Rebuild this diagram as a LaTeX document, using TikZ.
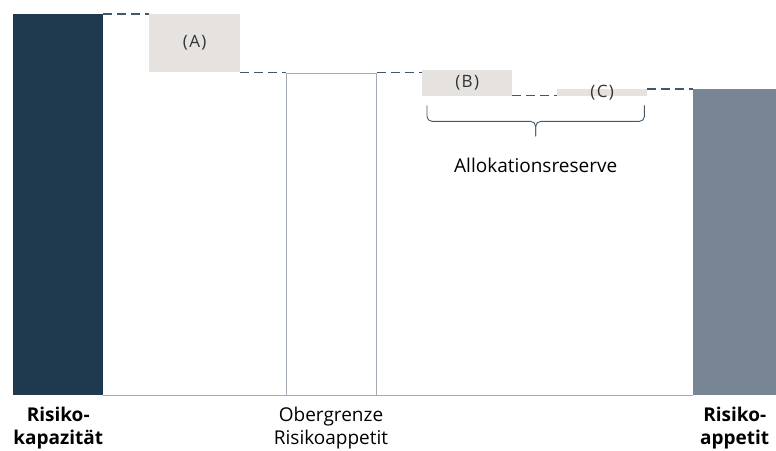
\documentclass[tikz,border=0pt]{standalone}
\usepackage{fontspec}
\setmainfont{Open Sans}
\newfontfamily\boxfont[LetterSpace=8]{Open Sans}
\usetikzlibrary{positioning,calc}
\definecolor{kapblue}{HTML}{1F3A4E}
\definecolor{appgray}{HTML}{778594}
\definecolor{boxbeige}{HTML}{E6E2DF}
\definecolor{linegray}{HTML}{A3ABB4}
\definecolor{dashblue}{HTML}{45586A}

\begin{document}
\begin{tikzpicture}[x=1pt,y=-1pt,
		bar/.style={rectangle, inner sep=0pt, anchor=north west},
		stepline/.style={draw=dashblue, line width=1.6pt, dash pattern=on 9pt off 5pt},
		boxtext/.style={font=\boxfont\fontsize{17}{20}\selectfont, text=black!80},
		labeltext/.style={inner sep=0pt, align=center, font=\fontsize{19}{23}\selectfont}]
		\useasboundingbox (0,0) rectangle (776,450);
		
		\node[bar, fill=kapblue, minimum width=90pt, minimum height=381pt](KAP) at (13,14){};
		\node[bar, fill=boxbeige, minimum width=91pt, minimum height=58pt, boxtext](A) at (149,14){(A)};
		\node[bar, draw=linegray, line width=1pt, minimum width=90pt, minimum height=322pt](OBER) at (285.5,72.5){};
		\node[bar, fill=boxbeige, minimum width=90pt, minimum height=26pt, boxtext](B) at (422,70){(B)};
		\node[bar, fill=boxbeige, minimum width=90pt, minimum height=7pt](C) at (557,89){};
		\node[boxtext, inner sep=0pt](CT) at (C.center){(C)};
		\node[bar, fill=appgray, minimum width=83pt, minimum height=306pt](APP) at (693,89){};
		
		\draw[linegray, line width=1pt] (KAP.south east) -- (APP.south west);
		
		% Stufen
		\draw[stepline] (KAP.north east) -- (KAP.north east -| A.west);
		\draw[stepline] (A.south east) -- (A.south east -| OBER.west);
		\draw[stepline] (OBER.north east) -- (OBER.north east -| B.west);
		\draw[stepline] ([yshift=1pt]B.south east) -- ([yshift=1pt]B.south east -| C.west);
		\draw[stepline] (C.north east) -- (C.north east -| APP.west);
		
		% Klammer
		\coordinate (BRL) at ([xshift=5pt,yshift=-9pt]B.south west);
		\coordinate (BRR) at ([xshift=-3pt,yshift=-9pt]C.south east);
		\coordinate (BRM) at ([yshift=-16pt]$(BRL)!0.5!(BRR)$);
		\coordinate (BRT) at ([yshift=-15pt]BRM);
		\draw[dashblue, line width=0.9pt, rounded corners=5pt] (BRL) |- (BRM) -- (BRT);
		\draw[dashblue, line width=0.9pt, rounded corners=5pt] (BRR) |- (BRM) -- (BRT);
		
		\node[labeltext, below=21pt of BRT](RES){Allokationsreserve};
		
		\node[labeltext, below=11pt of KAP.south, font=\bfseries\fontsize{19}{23}\selectfont](LKAP){Risiko-\\kapazität};
		\node[labeltext, below=11pt of OBER.south](LOBER){Obergrenze\\Risikoappetit};
		\node[labeltext, below=11pt of APP.south, font=\bfseries\fontsize{19}{23}\selectfont](LAPP){Risiko-\\appetit};
\end{tikzpicture}
\end{document}
